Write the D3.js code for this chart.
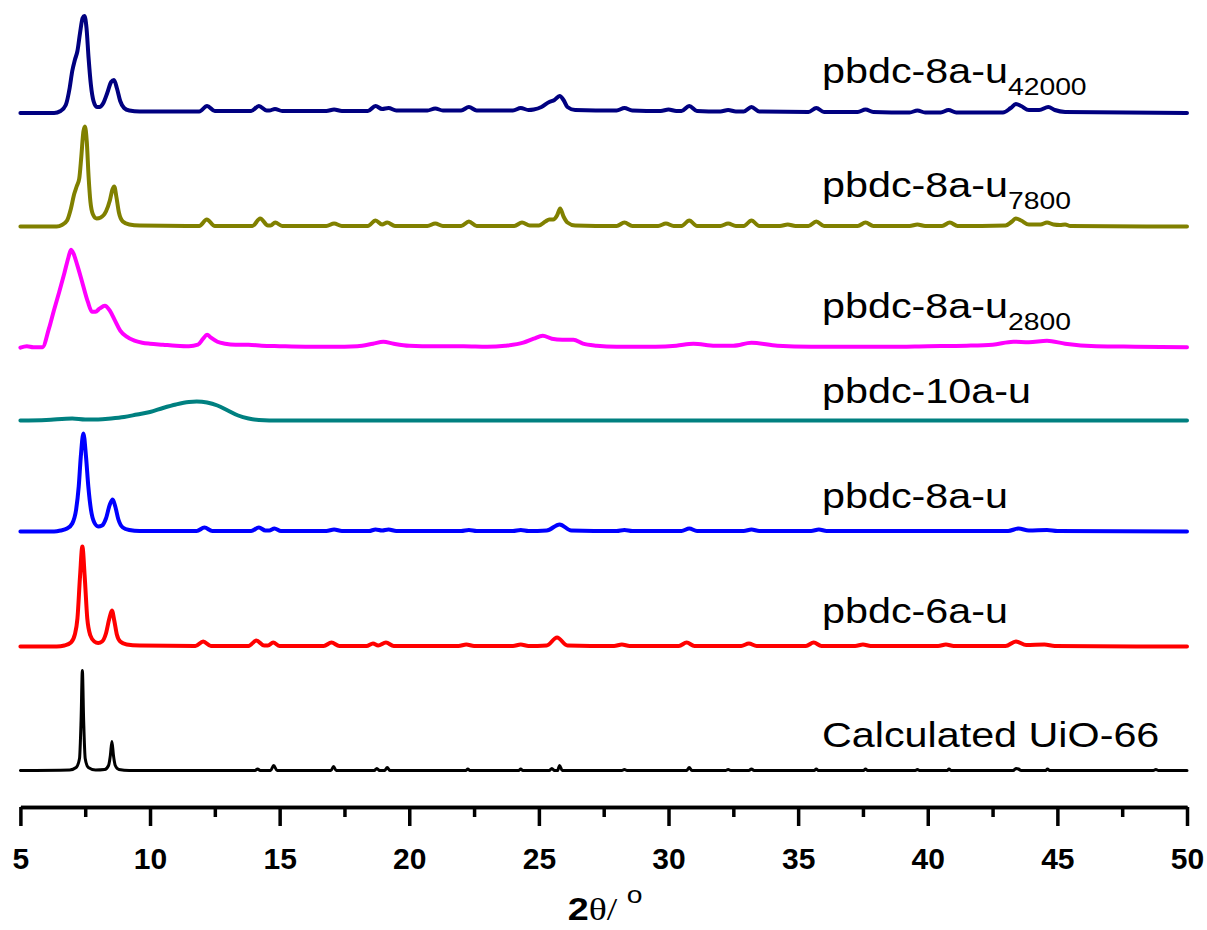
<!DOCTYPE html>
<html>
<head>
<meta charset="utf-8">
<script src="https://cdn.jsdelivr.net/npm/d3@7"></script>
<style>
body { margin: 0; background: #fff; }
.trace { fill: none; stroke-linejoin: round; stroke-linecap: round; }
.lbl { font-family: Arial, "Liberation Sans", sans-serif; font-size: 35px; fill: #000; }
.axis text { font-family: Arial, "Liberation Sans", sans-serif; font-weight: bold; font-size: 30px; fill: #000; }
.axis path, .axis line { stroke: #000; stroke-width: 3.5px; }
</style>
</head>
<body>
<div id="chart"></div>
<script>
// 2theta range and ticks
var xDomain = [5, 50];
var majorTicks = [5, 10, 15, 20, 25, 30, 35, 40, 45, 50];
var minorTicks = [7.5, 12.5, 17.5, 22.5, 27.5, 32.5, 37.5, 42.5, 47.5];

// [2theta, intensity above the trace's own baseline]
var calcUiO = [[5,0],[6.9,0.5],[7.15,3],[7.28,12],[7.34,50],[7.39,100],[7.44,50],[7.5,12],[7.62,3],[7.9,0.5],[8.25,1],[8.4,5],[8.47,15],[8.53,29],[8.59,15],[8.66,5],[8.8,1],[9.2,0],
  [14.05,0],[14.15,1.5],[14.25,0],[14.65,0],[14.77,5],[14.9,0],[16.98,0],[17.08,4],[17.18,0],[18.65,0],[18.75,2],[18.85,0],[19.05,0],[19.15,3],[19.25,0],
  [22.18,0],[22.26,1.5],[22.34,0],[24.22,0],[24.3,1.5],[24.38,0],[25.4,0],[25.5,2],[25.6,0],[25.72,0],[25.8,5],[25.9,0],[28.2,0],[28.3,1],[28.4,0],
  [30.7,0],[30.8,3],[30.9,0],[32.2,0],[32.3,1],[32.4,0],[33.1,0],[33.2,1.5],[33.3,0],[35.62,0],[35.7,1.5],[35.78,0],[37.52,0],[37.6,1.5],[37.68,0],
  [39.52,0],[39.6,1],[39.68,0],[40.75,0],[40.82,1.5],[40.9,0],[43.3,0],[43.4,2],[43.5,1.5],[43.6,0],[44.55,0],[44.62,1.5],[44.7,0],[48.7,0],[48.8,1],[48.9,0],[50,0]];

var pbdc6a = [[5,0],[6.4,0],[6.7,1],[6.95,4],[7.1,12],[7.2,28],[7.3,70],[7.39,100],[7.48,70],[7.58,28],[7.7,11],[7.85,5],[8.0,3.5],[8.15,5],[8.3,13],[8.43,28],[8.53,36],[8.62,26],[8.72,12],[8.85,5],[9.1,2],[9.6,1],
  [11.75,0.5],[12.05,5],[12.35,0.5],[13.8,0.5],[14.1,6],[14.4,1],[14.55,1],[14.75,4],[15.0,0.5],[16.7,0.5],[17.0,4],[17.3,0.5],[18.35,0.5],[18.6,3],[18.8,1],[19.1,4],[19.4,0.5],
  [21.9,0.5],[22.2,2],[22.5,0.5],[24.0,0.5],[24.3,2],[24.6,0.5],[25.3,1],[25.7,9],[26.1,1],[27.9,0.5],[28.2,2],[28.5,0.5],[30.4,0.5],[30.7,4],[31.0,0.5],[32.8,0.5],[33.1,3],[33.4,0.5],
  [35.3,0.5],[35.6,4],[35.9,0.5],[37.2,0.5],[37.5,2],[37.8,0.5],[40.4,0.5],[40.7,2],[41.0,0.5],[43.0,0.5],[43.4,5],[43.8,1.5],[44.5,2],[44.9,0.5],[50,0]];

var pbdc8a = [[5,0],[6.3,0],[6.55,1],[6.8,3],[7.0,8],[7.15,22],[7.25,45],[7.33,75],[7.43,98],[7.53,75],[7.62,45],[7.72,22],[7.85,9],[8.0,5],[8.15,6],[8.3,13],[8.45,27],[8.56,32],[8.66,25],[8.78,12],[8.95,4],[9.2,1.5],[9.6,0.5],
  [11.8,0.5],[12.1,4],[12.4,0.5],[13.9,0.5],[14.2,4],[14.45,1],[14.6,1],[14.8,3],[15.05,0.5],[16.8,0.5],[17.1,2],[17.4,0.5],[18.45,0.5],[18.7,2],[18.95,1],[19.2,2],[19.5,0.5],
  [22.0,0.5],[22.3,1.5],[22.6,0.5],[24.0,0.5],[24.3,1.5],[24.6,0.5],[25.3,1],[25.8,7],[26.25,1],[28.0,0.5],[28.3,1.5],[28.6,0.5],[30.5,0.5],[30.8,3],[31.1,0.5],[32.9,0.5],[33.2,2],[33.5,0.5],
  [35.5,0.5],[35.8,2],[36.1,0.5],[43.1,0.5],[43.5,3],[43.9,1],[44.6,1.5],[45.0,0.5],[50,0]];

var pbdc10a = [[5,0],[6,0.5],[7,2],[7.5,1],[8,1],[8.5,2],[9,3.5],[9.5,6],[10,8.5],[10.5,12.5],[11,16],[11.5,18.5],[11.8,19],[12.2,18],[12.6,15],[13,10],[13.4,5],[13.8,2],[14.2,0.5],[15,0],[50,0]];

var pbdc8a2800 = [[5,0],[5.25,1.5],[5.5,0.5],[5.85,0.5],[6.1,19],[6.3,38],[6.5,56],[6.7,75],[6.85,90],[6.95,98],[7.05,94],[7.2,82],[7.4,64],[7.6,46],[7.76,36],[7.9,36],[8.05,39],[8.26,42],[8.45,37],[8.65,27],[8.85,17],[9.1,11],[9.4,7],[9.7,5],[10.0,4],[10.5,3],[11.0,2],[11.5,1.5],[11.85,3],[12.05,9],[12.2,13],[12.35,10],[12.6,6],[12.9,4],[13.3,3],[13.8,3],[14.3,2],[15,1.5],[16,1],[17,1],[18,1.5],[18.6,4],[19.0,6],[19.4,4],[20,2],[21,1.5],[22.1,1.5],[23,1],[23.7,2],[24.4,5],[24.8,9],[25.15,12],[25.5,9],[25.9,8],[26.33,8],[26.7,4],[27.23,2],[28,1],[29.5,1],[30.3,2],[30.96,4],[31.8,2],[32.5,2],[33.2,5],[34.2,2],[35.5,1],[37,1],[38.5,1],[40,1.5],[41.5,2],[42.5,3],[43.3,6],[43.9,5.5],[44.6,7],[45.3,4],[46.5,1.5],[48,1],[50,0.5]];

var pbdc8a7800 = [[5,0],[6.4,0],[6.6,1.5],[6.8,6],[6.95,18],[7.07,32],[7.17,40],[7.27,48],[7.35,70],[7.43,95],[7.49,100],[7.56,85],[7.63,50],[7.7,25],[7.8,12],[7.94,8],[8.1,9],[8.3,15],[8.45,26],[8.55,37],[8.62,40],[8.7,30],[8.8,14],[8.95,5],[9.2,2],[9.6,1],
  [11.9,0.5],[12.19,7],[12.5,0.5],[13.95,0.5],[14.25,8],[14.55,1],[14.65,1],[14.83,4],[15.1,0.5],[16.8,0.5],[17.1,3],[17.4,0.5],[18.4,0.5],[18.7,6],[18.95,2],[19.15,4],[19.45,0.5],
  [20.7,0.5],[21.0,3],[21.3,0.5],[22.0,0.5],[22.3,5],[22.6,0.5],[24.05,0.5],[24.35,4],[24.65,1],[25.0,1],[25.25,5],[25.4,7],[25.55,7],[25.7,11],[25.82,18],[25.95,10],[26.1,4],[26.4,1],
  [28.0,0.5],[28.3,4],[28.6,0.5],[29.6,0.5],[29.9,3],[30.2,0.5],[30.5,0.5],[30.8,6],[31.1,0.5],[32.0,0.5],[32.3,3],[32.6,0.5],[32.9,0.5],[33.2,6],[33.5,0.5],[34.3,0.5],[34.6,2],[34.9,0.5],
  [35.4,0.5],[35.7,5],[36.0,0.5],[37.3,0.5],[37.6,4],[37.9,0.5],[39.3,0.5],[39.6,2],[39.9,0.5],[40.55,0.5],[40.85,4],[41.15,0.5],[43.0,1],[43.25,5],[43.4,8],[43.6,6],[43.9,2],[44.35,2],[44.6,4],[44.85,2],[45.1,1.5],[45.3,2],[45.5,0.5],[50,0]];

var pbdc8a42000 = [[5,0],[6.3,0],[6.55,2],[6.75,8],[6.9,25],[7.0,42],[7.1,53],[7.2,62],[7.3,80],[7.4,95],[7.47,97],[7.55,85],[7.63,55],[7.72,28],[7.82,12],[7.95,6],[8.05,6],[8.2,10],[8.35,20],[8.5,31],[8.61,33],[8.72,25],[8.85,12],[9.0,5],[9.2,2.5],[9.6,1.5],
  [11.9,1.5],[12.2,7],[12.5,2],[13.9,2],[14.2,7],[14.5,2.5],[14.6,2.5],[14.82,4],[15.1,2],[16.8,2],[17.1,3.5],[17.4,2],[18.4,2],[18.7,7],[18.95,4],[19.2,5],[19.5,2.5],
  [20.7,2.5],[21.0,4.5],[21.3,2.5],[22.0,2.5],[22.3,6],[22.6,2.5],[24.0,2.5],[24.3,5],[24.6,3],[24.8,3.5],[25.1,6],[25.4,11],[25.6,13],[25.8,17],[25.95,13],[26.1,6],[26.4,3],
  [28.0,2.5],[28.3,5],[28.6,2.5],[29.7,2],[30.0,3.5],[30.3,2],[30.5,2],[30.8,7],[31.1,2],[32.0,1.5],[32.3,3],[32.6,1.5],[32.9,1.5],[33.2,6],[33.5,1.5],
  [35.4,1],[35.7,5],[36.0,1],[37.3,1],[37.6,3.5],[37.9,1],[39.3,0.5],[39.6,2.5],[39.9,0.5],[40.5,0.5],[40.8,3],[41.1,0.5],[42.9,0.5],[43.2,5],[43.4,9],[43.6,7],[43.9,3],[44.3,3],[44.65,6],[44.9,3],[45.3,1],[50,0]];

var names = ["Calculated UiO-66", "pbdc-6a-u", "pbdc-8a-u", "pbdc-10a-u", "pbdc-8a-u", "pbdc-8a-u", "pbdc-8a-u"];
var subs = ["", "", "", "", "2800", "7800", "42000"];
var offsets = [35.5, 159.5, 274.5, 385.5, 458.3, 579.5, 693];
var labelLevels = [59, 183, 298, 403, 488, 609, 723];
var colors = ["#000000", "#ff0000", "#0000ff", "#008080", "#ff00ff", "#808000", "#000080"];
var series = [calcUiO, pbdc6a, pbdc8a, pbdc10a, pbdc8a2800, pbdc8a7800, pbdc8a42000];

var width = 1207, height = 930;

var svg = d3.select("#chart").append("svg")
    .attr("width", width)
    .attr("height", height);

var x = d3.scaleLinear().domain(xDomain).range([20.4, 1187]);
var y = d3.scaleLinear().domain([0, 800]).range([806, 6]);

series.forEach(function(data, i) {
  var line = d3.line()
      .x(function(d) { return x(d[0]); })
      .y(function(d) { return y(offsets[i] + d[1]); })
      .curve(d3.curveMonotoneX);

  svg.append("path")
     .datum(data)
     .attr("class", "trace")
     .attr("d", line)
     .attr("stroke", colors[i])
     .attr("stroke-width", i == 0 ? 3 : 4);

  var t = svg.append("text")
     .attr("class", "lbl")
     .attr("transform", "translate(822," + y(labelLevels[i]) + ") scale(1.18,1)");
  t.append("tspan").text(names[i]);
  if (subs[i]) {
    t.append("tspan").attr("font-size", "24px").attr("dy", 12).text(subs[i]);
  }
});

// axis
var axisY = 807;
svg.append("g")
   .attr("class", "axis")
   .attr("transform", "translate(0," + axisY + ")")
   .call(d3.axisBottom(x).tickValues(minorTicks).tickSize(10).tickSizeOuter(0).tickFormat(""));

svg.append("g")
   .attr("class", "axis")
   .attr("transform", "translate(0," + axisY + ")")
   .call(d3.axisBottom(x).tickValues(majorTicks).tickSize(19).tickSizeOuter(0).tickPadding(22).tickFormat(d3.format("d")));

// axis title 2θ/ °
var title = svg.append("text")
   .attr("transform", "translate(605,920) scale(1.18,1)")
   .attr("text-anchor", "middle");
title.append("tspan").attr("font-family", "Arial, 'Liberation Sans', sans-serif").attr("font-weight", "bold").attr("font-size", "32px").text("2");
title.append("tspan").attr("font-family", "'Times New Roman', 'Liberation Serif', serif").attr("font-size", "32px").text("\u03b8/ ");
title.append("tspan").attr("font-family", "Arial, 'Liberation Sans', sans-serif").attr("font-size", "24px").attr("dy", -17).text("o");
</script>
</body>
</html>
